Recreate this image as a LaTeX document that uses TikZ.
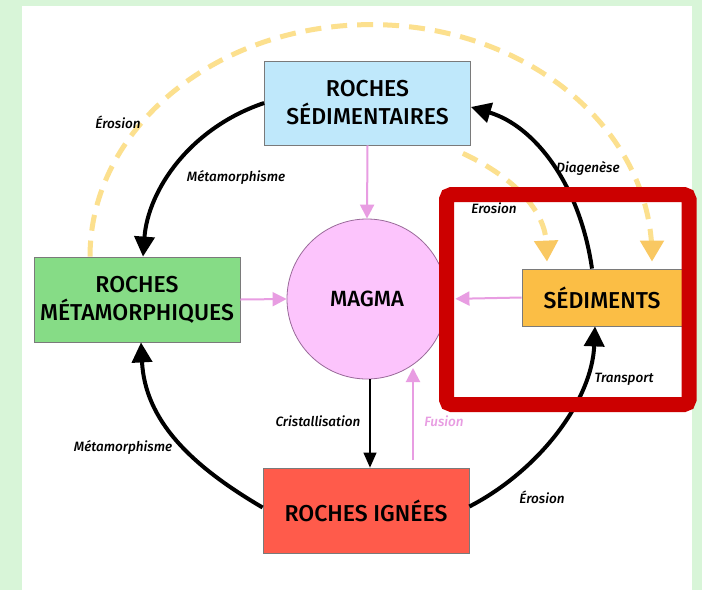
\documentclass[tikz,border=0pt]{standalone}
\usepackage{fontspec}
\setmainfont{Fira Sans}[UprightFont={* Medium},ItalicFont={* Medium Italic}]
\usetikzlibrary{arrows.meta}
\definecolor{bggreen}{HTML}{D8F5D8}
\definecolor{boxborder}{HTML}{7A7A7A}
\definecolor{sedblue}{HTML}{BFE8FB}
\definecolor{metagreen}{HTML}{86DC86}
\definecolor{sediorange}{HTML}{FBBE45}
\definecolor{ignred}{HTML}{FF5B4B}
\definecolor{magmapink}{HTML}{FCC4FC}
\definecolor{magmaborder}{HTML}{9A6A9A}
\definecolor{pinkc}{HTML}{E89DE2}
\definecolor{dashc}{HTML}{FCE08E}
\definecolor{arrowor}{HTML}{F9C862}
\definecolor{focusred}{HTML}{CC0000}
\begin{document}
\begin{tikzpicture}[x=1pt,y=-1pt,
  box/.style={draw=boxborder, line width=0.8pt, minimum width=206pt, minimum height=84pt,
    align=center, inner sep=0pt, font=\fontsize{23}{28}\selectfont},
  lbl/.style={font=\fontsize{13.5}{15}\selectfont\itshape, inner sep=0pt},
  blk/.style={line width=4pt, -{Triangle[width=20pt,length=20pt]}},
  pk/.style={draw=pinkc, line width=2pt, -{Triangle[width=14pt,length=14pt,color=pinkc]}},
  thin/.style={line width=1.2pt, -{Triangle[width=13pt,length=15pt]}},
  dashy/.style={draw=dashc, line width=5pt, dash pattern=on 16pt off 10pt,
    -{Triangle[width=23pt,length=21pt,color=arrowor]}}]
\useasboundingbox (0,0) rectangle (702,590);
\fill[bggreen] (0,0) rectangle (702,590);
\fill[white] (22,6) rectangle (692,590);

% nodes
\node[box, fill=sedblue] (sed) at (367.5,103) {ROCHES\\SÉDIMENTAIRES};
\node[box, fill=metagreen, minimum height=85pt] (meta) at (137,299.5) {ROCHES\\MÉTAMORPHIQUES};
\node[box, fill=sediorange, minimum width=160pt, minimum height=57pt] (sedi) at (602,297.5) {SÉDIMENTS};
\node[box, fill=ignred, minimum height=85pt] (ign) at (366,510.5) {ROCHES IGNÉES};
\node[circle, draw=magmaborder, line width=0.8pt, fill=magmapink, minimum size=160pt, inner sep=0pt,
  font=\fontsize{22}{24}\selectfont] (magma) at (367,299) {MAGMA};

% dashed erosion arcs
\draw[dashy] ([xshift=-47pt]meta.north) arc[start angle=180, end angle=360, x radius=281, y radius=232]
  -- ([xshift=50pt,yshift=7pt]sedi.north);
\draw[dashy] ([xshift=-8pt,yshift=-8pt]sed.south east) .. controls (520,180) and (545,215) ..
  ([xshift=-55pt,yshift=7pt]sedi.north);

% black cycle arrows
\draw[blk] (sed.west) .. controls (190,128) and (148,190) .. ([xshift=6pt]meta.north);
\draw[blk] ([yshift=3pt]ign.west) .. controls (190,465) and (145,420) .. ([xshift=4pt]meta.south);
\draw[blk] ([yshift=4pt]ign.east) .. controls (540,470) and (592,400) .. ([xshift=-7pt]sedi.south);
\draw[blk] ([xshift=-10pt]sedi.north) .. controls (580,185) and (535,126) .. ([yshift=-4pt]sed.east);

% pink arrows to magma
\draw[pk] (sed.south) -- (magma.north);
\draw[pk] (meta.east) -- (magma.west);
\draw[pk, shorten >=8pt] (sedi.west) -- (magma.east);
\coordinate (fus0) at (413,460);
\coordinate (fus1) at (413,368);
\draw[pk] (fus0) -- (fus1);

% cristallisation
\draw[thin] ([xshift=3pt]magma.south) -- ([xshift=3pt]magma.south |- ign.north);

% labels
\node[lbl] (l1) at (118,122) {Érosion};
\node[lbl] (l2) at (236,177) {Métamorphisme};
\node[lbl] (l3) at (588,168) {Diagenèse};
\node[lbl] (l4) at (494,208) {Erosion};
\node[lbl] (l5) at (624,379) {Transport};
\node[lbl] (l6) at (318,421) {Cristallisation};
\node[lbl, text=pinkc] (l7) at (444,421) {Fusion};
\node[lbl] (l8) at (123,447) {Métamorphisme};
\node[lbl] (l9) at (542,497) {Érosion};

% focus frame
\node[draw=focusred, line width=15pt, rounded corners=5pt, minimum width=242.5pt,
  minimum height=210pt, inner sep=0pt] (focus) at (567.75,299.5) {};
\end{tikzpicture}
\end{document}
